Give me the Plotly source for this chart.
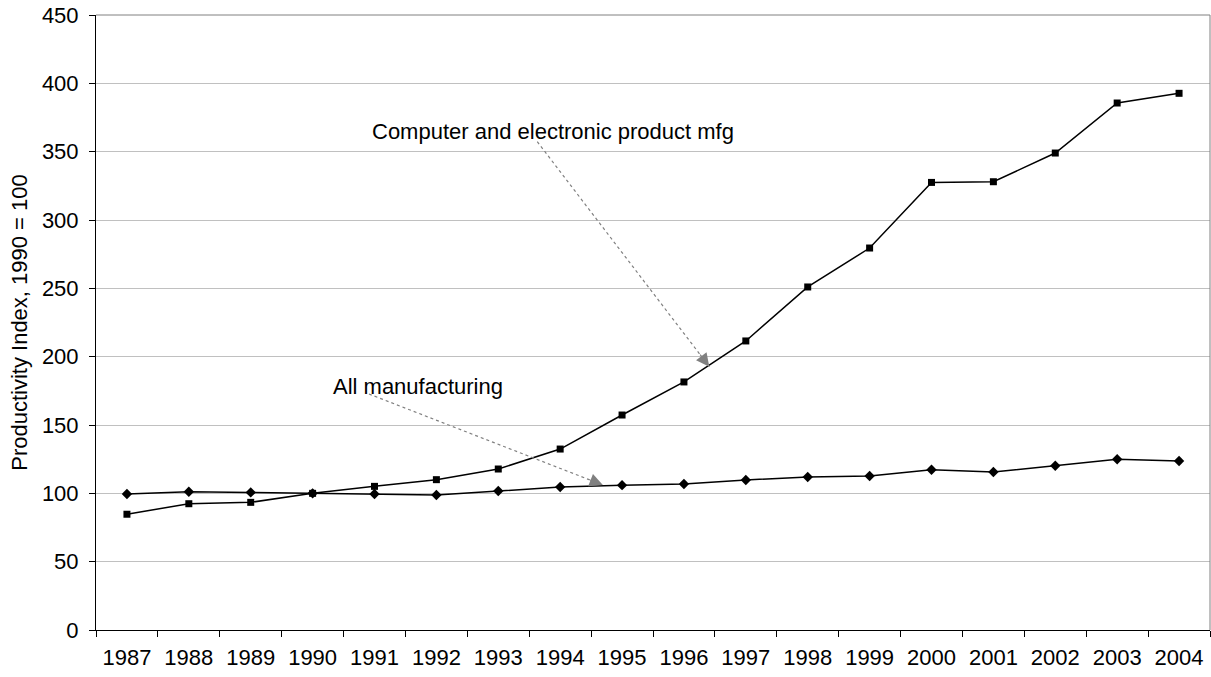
import plotly.graph_objects as go

years = ["1987", "1988", "1989", "1990", "1991", "1992", "1993", "1994", "1995",
         "1996", "1997", "1998", "1999", "2000", "2001", "2002", "2003", "2004"]
computer_mfg = [84.7, 92.4, 93.4, 100.0, 105.1, 110.0, 117.8, 132.4, 157.3,
                181.5, 211.5, 251.0, 279.5, 327.5, 328.0, 349.0, 385.6, 392.7]
all_mfg = [99.5, 101.2, 100.7, 100.0, 99.5, 98.8, 101.7, 104.6, 106.0,
           106.8, 109.8, 112.0, 112.7, 117.3, 115.6, 120.2, 124.9, 123.7]
y_ticks = [0, 50, 100, 150, 200, 250, 300, 350, 400, 450]

FONT = "Liberation Sans, Arial, sans-serif"

fig = go.Figure()
fig.add_trace(go.Scatter(x=years, y=all_mfg, mode="lines+markers",
                         line=dict(color="black", width=1.5),
                         marker=dict(symbol="diamond", size=8, color="black"),
                         name="All manufacturing", showlegend=False))
fig.add_trace(go.Scatter(x=years, y=computer_mfg, mode="lines+markers",
                         line=dict(color="black", width=1.5),
                         marker=dict(symbol="square", size=7, color="black"),
                         name="Computer and electronic product mfg", showlegend=False))

# callouts: dotted leader line + arrowhead
callouts = [
    dict(text="Computer and electronic product mfg", tx=6.89, ty=365.1,
         x0=6.63, y0=357.3, x1=9.41, y1=192.7),
    dict(text="All manufacturing", tx=4.71, ty=178.5,
         x0=3.91, y0=172.7, x1=7.69, y1=106.1),
]
for c in callouts:
    fig.add_shape(type="line", xref="x", yref="y", x0=c["x0"], y0=c["y0"],
                  x1=c["x1"], y1=c["y1"], line=dict(color="#808080", width=1.2, dash="dot"))
    ax = c["x1"] - (c["x1"] - c["x0"]) * 0.06
    ay = c["y1"] - (c["y1"] - c["y0"]) * 0.06
    fig.add_annotation(x=c["x1"], y=c["y1"], ax=ax, ay=ay, axref="x", ayref="y",
                       xref="x", yref="y", text="", showarrow=True,
                       arrowhead=2, arrowsize=2.2, arrowwidth=1.2, arrowcolor="#808080")
    fig.add_annotation(x=c["tx"], y=c["ty"], xref="x", yref="y", text=c["text"],
                       showarrow=False, font=dict(family=FONT, size=22, color="black"))

# plot area border top/right (gray)
fig.add_shape(type="line", xref="paper", yref="paper", x0=0, y0=1, x1=1, y1=1,
              line=dict(color="#808080", width=1))
fig.add_shape(type="line", xref="paper", yref="paper", x0=1, y0=0, x1=1, y1=1,
              line=dict(color="#808080", width=1))

fig.update_layout(
    width=1211, height=677,
    margin=dict(l=96, r=1, t=15, b=47),
    paper_bgcolor="white", plot_bgcolor="white",
    font=dict(family=FONT, size=22, color="black"),
    showlegend=False,
    xaxis=dict(type="category", tickson="boundaries", ticks="outside", ticklen=6,
               tickcolor="black", showline=True, linecolor="black", linewidth=1,
               showgrid=False, range=[-0.5, 17.5], tickfont=dict(size=22),
               ticklabelstandoff=8, fixedrange=True),
    yaxis=dict(range=[0, 450], tickvals=y_ticks, ticks="outside", ticklen=6,
               tickcolor="black", showline=True, linecolor="black", linewidth=1,
               showgrid=True, gridcolor="#c0c0c0", gridwidth=1, zeroline=False,
               tickfont=dict(size=22), ticklabelstandoff=6,
               title=dict(text="Productivity Index, 1990 = 100", font=dict(size=22), standoff=8)),
)

fig.write_html("out.html", config={"displayModeBar": False},
               post_script="document.body.style.margin='0';document.body.style.padding='0';")
